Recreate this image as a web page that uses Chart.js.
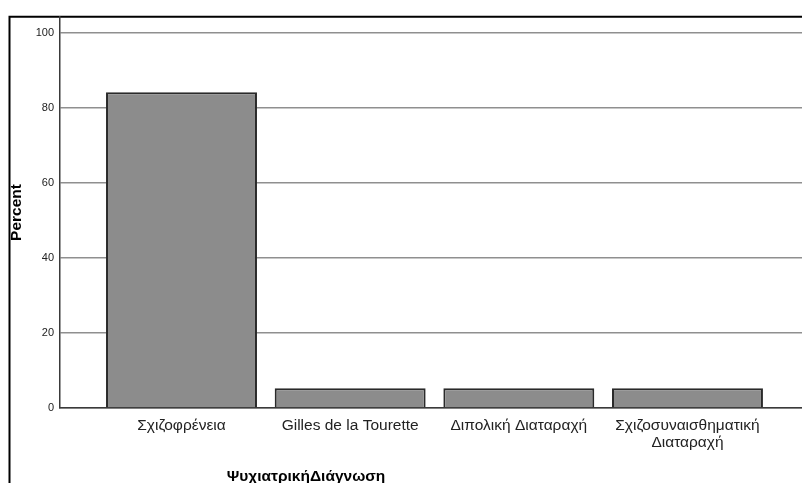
<!DOCTYPE html>
<html>
<head>
<meta charset="utf-8">
<script src="https://cdn.jsdelivr.net/npm/chart.js@4/dist/chart.umd.min.js"></script>
<style>
  html, body { margin: 0; padding: 0; background: #fff; }
  #wrap { width: 802px; height: 483px; position: relative; }
</style>
</head>
<body>
<div id="wrap"><canvas id="c" width="802" height="483"></canvas></div>
<script>
const categories = ["Σχιζοφρένεια", "Gilles de la Tourette", "Διπολική Διαταραχή", ["Σχιζοσυναισθηματική", "Διαταραχή"]];
const percentValues = [84.2, 5.3, 5.3, 5.3];
const yTickValues = [0, 20, 40, 60, 80, 100];
const xTitle = "ΨυχιατρικήΔιάγνωση";
const yTitle = "Percent";

const framePlugin = {
  id: 'frame',
  beforeDraw(chart) {
    const ctx = chart.ctx;
    ctx.save();
    ctx.fillStyle = '#fff';
    ctx.fillRect(0, 0, chart.width, chart.height);
    ctx.strokeStyle = '#000';
    ctx.lineWidth = 2;
    ctx.beginPath();
    ctx.moveTo(9.5, 483);
    ctx.lineTo(9.5, 16.8);
    ctx.lineTo(802, 16.8);
    ctx.stroke();
    ctx.restore();
  },
  afterDraw(chart) {
    const ctx = chart.ctx;
    ctx.save();
    ctx.fillStyle = '#000';
    ctx.font = 'bold 15.5px "Liberation Sans", Arial, sans-serif';
    ctx.textAlign = 'center';
    ctx.textBaseline = 'middle';
    ctx.fillText(xTitle, 306, 477);
    ctx.restore();
  }
};

new Chart(document.getElementById('c'), {
  type: 'bar',
  data: {
    datasets: [{
      data: percentValues.map((v, i) => ({ x: i, y: v })),
      backgroundColor: '#8c8c8c',
      borderColor: '#2a2a2a',
      borderWidth: 2,
      barPercentage: 0.895,
      categoryPercentage: 1.0
    }]
  },
  options: {
    responsive: false,
    animation: false,
    devicePixelRatio: 1,
    layout: { padding: { top: 17, left: 0, right: 0, bottom: 0 } },
    plugins: { legend: { display: false }, tooltip: { enabled: false } },
    scales: {
      x: {
        type: 'linear',
        offset: false,
        min: -0.7204,
        max: 3.679,
        afterBuildTicks(scale) { scale.ticks = categories.map((c, i) => ({ value: i })); },
        afterFit(scale) { scale.height = 75; },
        grid: { display: false, drawTicks: false },
        border: { display: true, color: '#3a3a3a', width: 1.5 },
        ticks: {
          autoSkip: false,
          maxRotation: 0,
          minRotation: 0,
          padding: 10,
          color: '#222',
          font: { family: 'Liberation Sans, Arial, sans-serif', size: 15.5, lineHeight: 1.05 },
          callback: (v) => categories[v]
        },
        title: { display: false }
      },
      y: {
        min: 0,
        max: 104.3,
        afterBuildTicks(scale) { scale.ticks = yTickValues.map(v => ({ value: v })); },
        afterFit(scale) { scale.width = 60; },
        grid: { color: '#8f8f8f', lineWidth: 1.5, drawTicks: false },
        border: { display: true, color: '#3a3a3a', width: 1.5 },
        ticks: {
          padding: 6,
          color: '#222',
          font: { family: 'Liberation Sans, Arial, sans-serif', size: 11 }
        },
        title: {
          display: true,
          text: yTitle,
          color: '#000',
          font: { family: 'Liberation Sans, Arial, sans-serif', size: 15.5, weight: 'bold', lineHeight: 1.0 },
          padding: { top: 9, bottom: 0 }
        }
      }
    }
  },
  plugins: [framePlugin]
});
</script>
</body>
</html>
